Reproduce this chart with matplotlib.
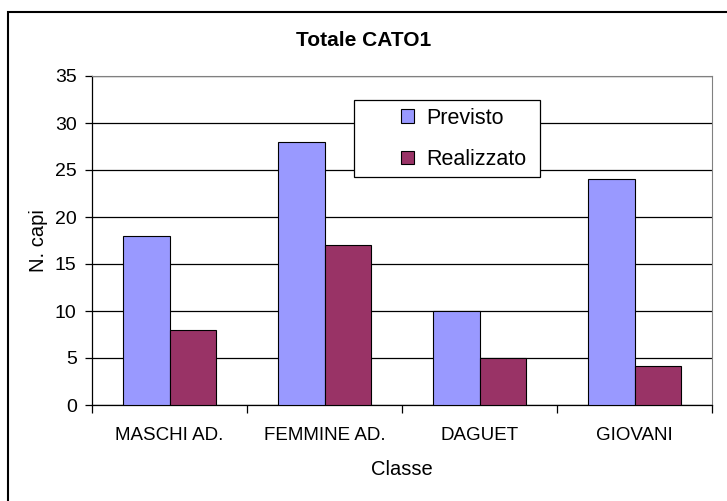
import matplotlib.pyplot as plt
import numpy as np
from matplotlib.patches import Rectangle

plt.rcParams['font.family'] = ['Liberation Sans', 'DejaVu Sans']

# Chart data
categories = ['MASCHI AD.', 'FEMMINE AD.', 'DAGUET', 'GIOVANI']
previsto = [18, 28, 10, 24]
realizzato = [8, 17, 5, 4.2]
y_ticks = [0, 5, 10, 15, 20, 25, 30, 35]

fig = plt.figure(figsize=(7.27, 5.01), dpi=100)
ax = fig.add_axes([92 / 727, 1 - 405 / 501, 620 / 727, 329 / 501])

## Outer chart border (right and bottom edges fall outside the image)
fig.patches.append(Rectangle((8 / 727, -0.05), 1.0, 1 - 12 / 501 + 0.05,
                             transform=fig.transFigure, fill=False,
                             edgecolor='black', lw=1.5))

x = np.arange(len(categories))
w = 0.3
ax.bar(x - w / 2, previsto, w, color='#9999FF', edgecolor='black', lw=0.8,
       label='Previsto', zorder=3)
ax.bar(x + w / 2, realizzato, w, color='#993366', edgecolor='black', lw=0.8,
       label='Realizzato', zorder=3)

ax.set_xlim(-0.5, len(categories) - 0.5)
ax.set_ylim(0, 35)
ax.set_yticks(y_ticks)
ax.yaxis.grid(True, color='black', lw=0.9, zorder=0)
ax.set_axisbelow(True)

## Category labels centred, ticks between groups
ax.set_xticks(x)
ax.set_xticklabels(categories, fontsize=13.5)
ax.tick_params(axis='x', length=0, pad=16)
ax.set_xticks(np.arange(len(categories) + 1) - 0.5, minor=True)
ax.tick_params(axis='x', which='minor', length=6, width=0.9, direction='out')
ax.tick_params(axis='y', labelsize=14, length=5, width=0.9, direction='out', pad=6)

for s in ['top', 'right']:
    ax.spines[s].set_color('#808080')
for s in ['left', 'bottom']:
    ax.spines[s].set_color('black')
    ax.spines[s].set_linewidth(0.9)

ax.set_ylabel('N. capi', fontsize=14.5, labelpad=5)
ax.set_xlabel('Classe', fontsize=14.5, labelpad=11)
fig.text(0.5, 1 - 40 / 501, 'Totale CATO1', ha='center', va='center',
         fontsize=15, fontweight='bold')

## Legend: framed box with extra left padding like the spreadsheet original
box = Rectangle(((354 - 92) / 620, (405 - 177) / 329), 186 / 620, 77 / 329,
                transform=ax.transAxes, facecolor='white', edgecolor='black',
                lw=0.9, zorder=5)
ax.add_patch(box)
leg = ax.legend(loc='center left', bbox_to_anchor=((401 - 92) / 620, (405 - 139) / 329),
                fontsize=15.5, frameon=False, labelspacing=0.95, handlelength=0.6,
                handleheight=0.6, handletextpad=0.55, borderpad=0, borderaxespad=0)
leg.set_zorder(6)

fig.savefig('out.png', dpi=100)
